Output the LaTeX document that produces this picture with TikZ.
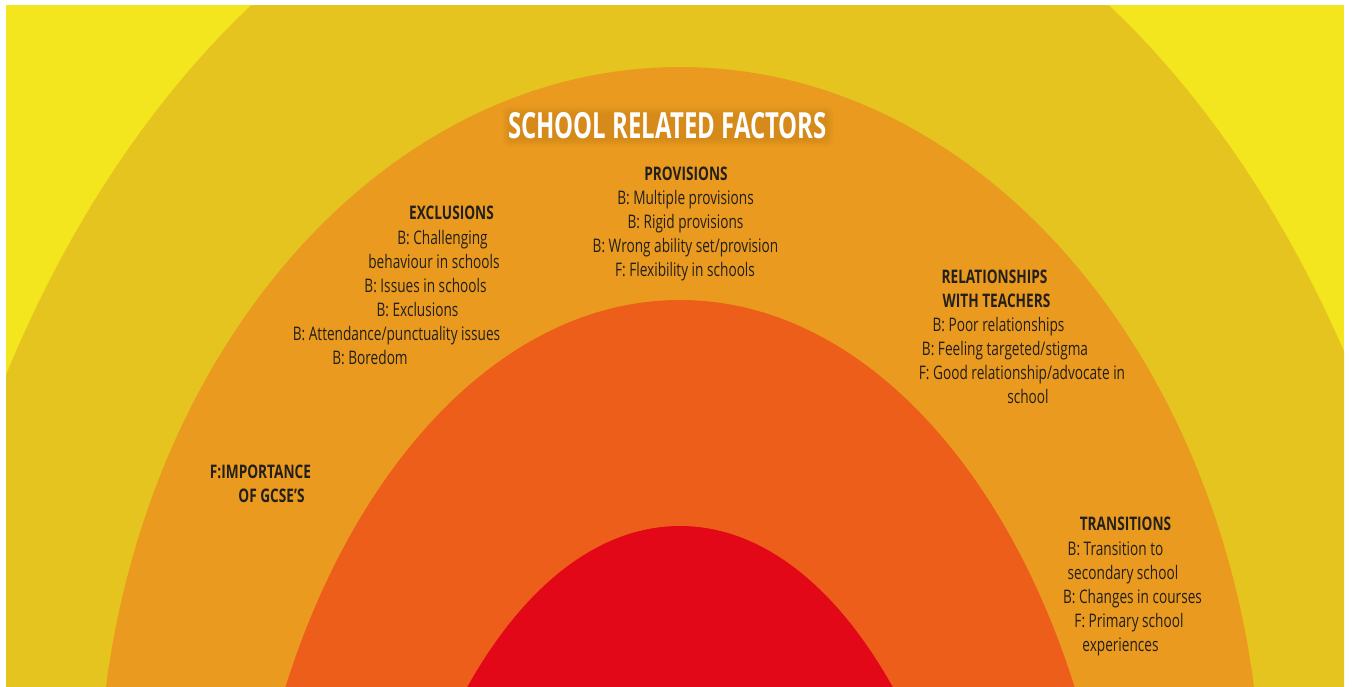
\documentclass[tikz,border=0pt]{standalone}
\usepackage{fontspec}
\newfontfamily\bodyfont[FakeStretch=0.73]{Open Sans}
\newfontfamily\titlefont[FakeStretch=0.665]{Open Sans}
\definecolor{ylight}{HTML}{F3E51E}
\definecolor{ydark}{HTML}{E6C41F}
\definecolor{orng}{HTML}{EA9B1F}
\definecolor{dorng}{HTML}{EC5E1A}
\definecolor{redc}{HTML}{E20817}
\definecolor{txt}{HTML}{231F1A}
\definecolor{glowc}{HTML}{9A5E0C}
\begin{document}
\begin{tikzpicture}[x=1pt,y=-1pt,
  ln/.style={anchor=base, inner sep=0pt, text=txt, font={\bodyfont\fontsize{18.7}{24}\selectfont}},
  hd/.style={ln, font={\bodyfont\bfseries\fontsize{18.7}{24}\selectfont}},
  ttl/.style={anchor=base, inner sep=0pt, text=white, font={\titlefont\bfseries\fontsize{36}{40}\selectfont}},
  halo/.style={fill=glowc, fill opacity=0.045, rounded corners=6pt}]
\useasboundingbox (0,0) rectangle (1352,686);
\fill[white] (0,0) rectangle (1352,686);
\begin{scope}
  \clip (6,5) rectangle (1344,686);
  \fill[ylight] (6,5) rectangle (1344,686);
  \fill[ydark] (680,950) ellipse [x radius=783pt, y radius=1129pt];
  \fill[orng] (680,810) ellipse [x radius=582pt, y radius=743pt];
  \fill[dorng] (680,1000) ellipse [x radius=441pt, y radius=700pt];
  \fill[redc] (680,1126) ellipse [x radius=312pt, y radius=600pt];
\end{scope}
% soft halo behind the title
\foreach \k in {0,1.5,...,7.5}{
  \fill[halo] (510-\k,114-\k) rectangle (826+\k,139+\k);
}
\node[ttl] (title) at (667.5,138) {SCHOOL RELATED FACTORS};
% provisions
\node[hd] (p0) at (686,180) {PROVISIONS};
\node[ln] (p1) at (685.5,204) {B: Multiple provisions};
\node[ln] (p2) at (685.5,228) {B: Rigid provisions};
\node[ln] (p3) at (685.5,252) {B: Wrong ability set/provision};
\node[ln] (p4) at (685,276) {F: Flexibility in schools};
% exclusions
\node[hd] (e0) at (451.5,219) {EXCLUSIONS};
\node[ln] (e1) at (442.5,244) {B: Challenging};
\node[ln] (e2) at (434,268) {behaviour in schools};
\node[ln] (e3) at (425.5,292) {B: Issues in schools};
\node[ln] (e4) at (417.5,316) {B: Exclusions};
\node[ln] (e5) at (396.5,340) {B: Attendance/punctuality issues};
\node[ln] (e6) at (370,364) {B: Boredom};
% relationships
\node[hd] (r0) at (994.5,283) {RELATIONSHIPS};
\node[hd] (r1) at (996.5,307) {WITH TEACHERS};
\node[ln] (r2) at (998.5,331) {B: Poor relationships};
\node[ln] (r3) at (1005,355) {B: Feeling targeted/stigma};
\node[ln] (r4) at (1022,379) {F: Good relationship/advocate in};
\node[ln] (r5) at (1028,403) {school};
% importance
\node[hd] (g0) at (260.5,478) {F:IMPORTANCE};
\node[hd] (g1) at (271.5,502) {OF GCSE’S};
% transitions
\node[hd] (t0) at (1125.5,530) {TRANSITIONS};
\node[ln] (t1) at (1115.5,555) {B: Transition to};
\node[ln] (t2) at (1123,579) {secondary school};
\node[ln] (t3) at (1132.5,603) {B: Changes in courses};
\node[ln] (t4) at (1129,627) {F: Primary school};
\node[ln] (t5) at (1120.5,651) {experiences};
\end{tikzpicture}
\end{document}
